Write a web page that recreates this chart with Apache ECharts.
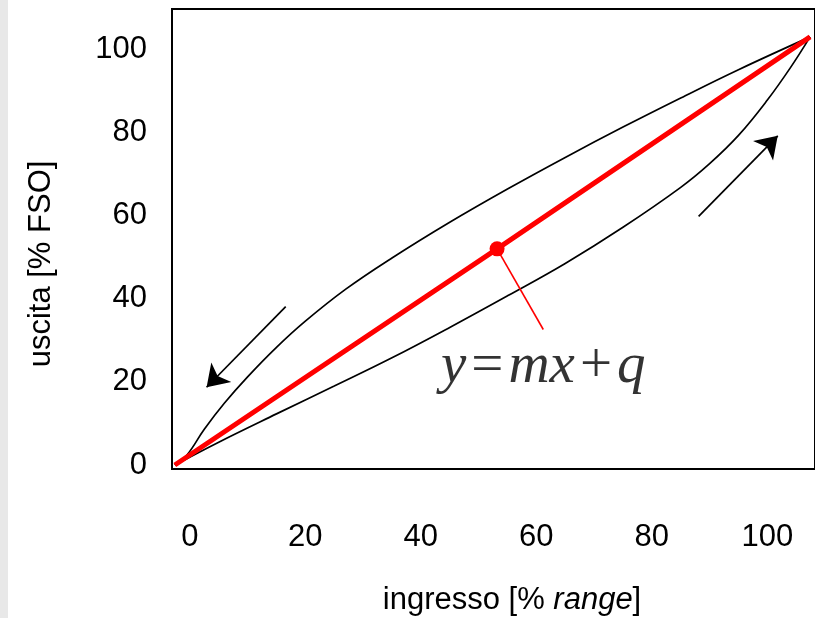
<!DOCTYPE html>
<html><head><meta charset="utf-8">
<script src="https://cdn.jsdelivr.net/npm/echarts@6/dist/echarts.min.js"></script>
<style>html,body{margin:0;padding:0;background:#fff}#c{width:815px;height:618px}</style>
</head><body><div id="c"></div>
<script>
// tick labels
const xTickLabels = [0, 20, 40, 60, 80, 100];
const yTickLabels = [0, 20, 40, 60, 80, 100];
// descending branch (upper curve)
const upperX = [-2.6, -0.5, 2.5, 6, 10, 15, 20, 27, 35, 45, 55, 65, 75, 85, 95, 107.4];
const upperY = [0, 2.4, 8.6, 14.9, 21.2, 28.3, 34.6, 42.3, 49.8, 58.4, 66.4, 74.0, 81.3, 88.3, 95.1, 103.0];
// ascending branch (lower curve)
const lowerX = [-2.6, 5, 15, 25, 35, 45, 55, 65, 75, 85, 90, 95, 100, 104, 107.4];
const lowerY = [0, 5.5, 12.3, 19.0, 25.8, 33.1, 40.7, 48.5, 57.2, 66.8, 72.5, 79.3, 87.8, 95.6, 103.0];
// linear fit y = mx + q
const fitX = [-2.6, 53.2, 107.4];
const fitY = [0, 52.0, 103.0];
const pointX = [53.2];
const pointY = [52.0];
const leaderX = [53.2, 61.2];
const leaderY = [52.0, 32.6];
const arrowDownFrom = [16.6, 38.1], arrowDownTo = [2.9, 18.7];
const arrowUpFrom = [88.1, 59.8], arrowUpTo = [101.8, 79.2];
const eqPos = [61.2, 23.6];
const xTitle = ['ingresso [% ', 'range', ']'];
const yTitle = 'uscita [% FSO]';

const zip = (a, b) => a.map((v, i) => [v, b[i]]);
const FONT = "'Liberation Sans', Arial, sans-serif";
const SERIF = "'Liberation Serif', 'Times New Roman', serif";
const chart = echarts.init(document.getElementById('c'), null, {renderer: 'canvas'});
chart.setOption({
  animation: false,
  backgroundColor: '#fff',
  grid: {left: 172, top: 9, right: -5, bottom: 149, show: true, borderColor: '#000', borderWidth: 2, backgroundColor: '#fff'},
  xAxis: {
    type: 'value', min: -3.09, max: 108.25,
    axisLine: {show: false}, axisTick: {show: false}, splitLine: {show: false},
    axisLabel: {customValues: xTickLabels, margin: 53, fontSize: 31, color: '#000', fontFamily: FONT}
  },
  yAxis: {
    type: 'value', min: -0.96, max: 109.7,
    axisLine: {show: false}, axisTick: {show: false}, splitLine: {show: false},
    axisLabel: {customValues: yTickLabels, margin: 25, fontSize: 31, color: '#000', fontFamily: FONT}
  },
  graphic: [
    {type: 'rect', left: 0, top: 0, shape: {width: 8, height: 618}, style: {fill: '#e8e8e8'}, silent: true},
    {type: 'text', x: 41, y: 264, rotation: Math.PI / 2,
     style: {text: yTitle, fontSize: 31, fontFamily: FONT, fill: '#000', align: 'center', verticalAlign: 'middle'}},
    {type: 'text', x: 512, y: 600,
     style: {text: '{a|' + xTitle[0] + '}{b|' + xTitle[1] + '}{a|' + xTitle[2] + '}', align: 'center', verticalAlign: 'middle',
       rich: {a: {fontSize: 31, fontFamily: FONT, fill: '#000', color: '#000'},
              b: {fontSize: 31, fontFamily: FONT, fontStyle: 'italic', fill: '#000', color: '#000'}}}}
  ],
  series: [
    {type: 'line', data: zip(upperX, upperY), smooth: 0.4, showSymbol: false, symbol: 'none',
     lineStyle: {color: '#000', width: 1.7}, z: 2},
    {type: 'line', data: zip(lowerX, lowerY), smooth: 0.4, showSymbol: false, symbol: 'none',
     lineStyle: {color: '#000', width: 1.7}, z: 2},
    {type: 'lines', coordinateSystem: 'cartesian2d', symbol: ['none', 'arrow'], symbolSize: 21,
     lineStyle: {color: '#000', width: 1.7, opacity: 1, curveness: 0},
     data: [{coords: [arrowDownFrom, arrowDownTo]}, {coords: [arrowUpFrom, arrowUpTo]}], z: 2},
    {type: 'line', data: zip(leaderX, leaderY), showSymbol: false, symbol: 'none',
     lineStyle: {color: '#ff0000', width: 1.6}, z: 3},
    {type: 'line', data: zip(fitX, fitY), showSymbol: false, symbol: 'none',
     lineStyle: {color: '#ff0000', width: 5}, z: 4},
    {type: 'scatter', data: zip(pointX, pointY), symbol: 'circle', symbolSize: 15,
     itemStyle: {color: '#ff0000', opacity: 1}, z: 5},
    {type: 'scatter', data: [eqPos], symbolSize: 0, z: 6,
     label: {show: true, position: 'inside', color: '#000',
       formatter: '{i|y}{n|=}{i|mx}{n|+}{i|q}',
       rich: {i: {fontSize: 57, fontFamily: SERIF, fontStyle: 'italic', color: '#000'},
              n: {fontSize: 57, fontFamily: SERIF, color: '#000', padding: [0, 5]}}}}
  ]
});
</script></body></html>
